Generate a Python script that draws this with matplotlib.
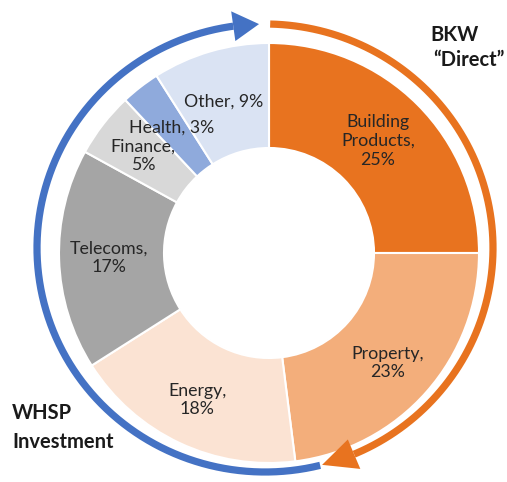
import numpy as np
import matplotlib.pyplot as plt
from matplotlib.patches import Polygon

# data
sectors = ['Building\nProducts,\n25%', 'Property,\n23%', 'Energy,\n18%', 'Telecoms,\n17%',
           'Finance,\n5%', 'Health, 3%', 'Other, 9%']
shares = [25, 23, 18, 17, 5, 3, 9]
colors = ['#E8731F', '#F3AE7B', '#FBE3D3', '#A5A5A5', '#D8D8D8', '#8FAADC', '#DAE3F3']

# label centres in image pixels (x, y from top)
label_pos = [(378, 141), (388, 363), (197, 400), (109, 258), (143, 156), (172, 128), (224, 102)]

W, H = 507, 482
fig = plt.figure(figsize=(W / 100, H / 100), dpi=100)
ax = fig.add_axes([0, 0, 1, 1])
plt.rcParams['font.family'] = ['Lato', 'DejaVu Sans']

ax.pie(shares, colors=colors, startangle=90, counterclock=False,
       radius=210, center=(269, H - 253),
       wedgeprops=dict(width=105, edgecolor='white', linewidth=1.5))

for txt, (x, y) in zip(sectors, label_pos):
    ax.text(x, H - y, txt, ha='center', va='center', fontsize=12.8,
            color='#262626', linespacing=1.2)

# arrows round the ring
cx, cy, rx, ry = 265, H - 248, 228, 224


def arc_arrow(a0, a1, a_tip, col, hw=14):
    t = np.radians(np.linspace(a0, a1, 200))
    ax.plot(cx + rx * np.cos(t), cy + ry * np.sin(t), color=col, lw=5.2,
            solid_capstyle='butt')
    tb, tt = np.radians(a1), np.radians(a_tip)
    bx, by = cx + rx * np.cos(tb), cy + ry * np.sin(tb)
    nx, ny = np.cos(tb), np.sin(tb)
    pts = [(bx + hw * nx, by + hw * ny), (bx - hw * nx, by - hw * ny),
           (cx + rx * np.cos(tt), cy + ry * np.sin(tt))]
    ax.add_patch(Polygon(pts, closed=True, color=col, lw=0))


arc_arrow(88.7, -67, -75.5, '#E8731F', hw=16)
arc_arrow(-76, -262, -268.5, '#4472C4', hw=15)

bold = dict(ha='left', va='center', fontsize=14.5, fontweight='bold', color='#1a1a1a')
ax.text(430, H - 35, 'BKW', **bold)
ax.text(433, H - 60, '\u201cDirect\u201d', **bold)
ax.text(12, H - 413, 'WHSP', **bold)
ax.text(12, H - 442, 'Investment', **bold)

ax.set_xlim(0, W)
ax.set_ylim(0, H)
ax.set_aspect('equal')
ax.axis('off')

fig.savefig('out.png', dpi=100)
